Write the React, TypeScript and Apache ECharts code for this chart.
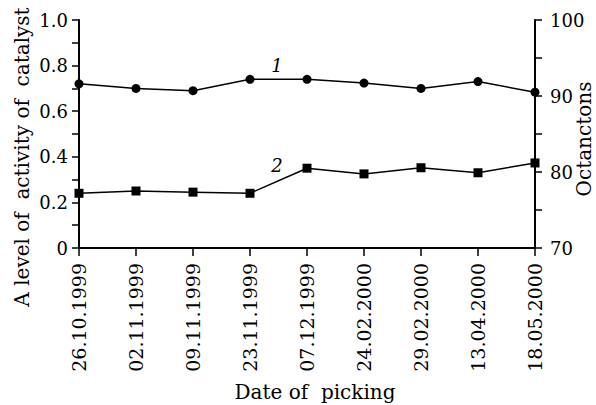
import React, { useEffect, useRef } from "react";
import * as echarts from "echarts";

const dates = [
  "26.10.1999", "02.11.1999", "09.11.1999", "23.11.1999", "07.12.1999",
  "24.02.2000", "29.02.2000", "13.04.2000", "18.05.2000",
];
// Curve 1 – octane number (right axis)
const octane = [91.6, 91.0, 90.7, 92.2, 92.2, 91.7, 91.0, 91.9, 90.5];
// Curve 2 – level of activity of catalyst (left axis)
const activity = [0.24, 0.25, 0.245, 0.24, 0.35, 0.325, 0.352, 0.33, 0.373];

const FONT = "DejaVu Serif";

export default function App() {
  const ref = useRef<HTMLDivElement>(null);
  useEffect(() => {
    if (!ref.current) return;
    const chart = echarts.init(ref.current, undefined, { renderer: "svg" });
    const axisCommon = {
      axisLine: { show: true, lineStyle: { color: "#000", width: 2 } },
      axisTick: { show: true, inside: false, length: 7, lineStyle: { color: "#000", width: 1.5 } },
      splitLine: { show: false },
      axisLabel: { color: "#000", fontFamily: FONT, fontSize: 18 },
    };
    chart.setOption({
      animation: false,
      backgroundColor: "#fff",
      grid: { left: 79, right: 61, top: 20, height: 228 },
      xAxis: {
        type: "category",
        data: dates,
        boundaryGap: false,
        axisLine: { lineStyle: { color: "#000", width: 2 } },
        axisTick: { show: true, length: 8, lineStyle: { color: "#000", width: 1.5 } },
        axisLabel: { rotate: 90, margin: 15, color: "#000", fontFamily: FONT, fontSize: 19, interval: 0 },
      },
      yAxis: [
        {
          ...axisCommon,
          type: "value",
          position: "left",
          min: 0,
          max: 1,
          interval: 0.1,
          axisLabel: {
            ...axisCommon.axisLabel,
            margin: 11,
            formatter: (v: number) => {
              const k = Math.round(v * 10);
              if (k % 2 !== 0) return "";
              return k === 0 ? "0" : (k / 10).toFixed(1);
            },
          },
        },
        {
          ...axisCommon,
          type: "value",
          position: "right",
          min: 70,
          max: 100,
          interval: 5,
          axisLabel: {
            ...axisCommon.axisLabel,
            margin: 15,
            formatter: (v: number) => (Math.round(v) % 10 === 0 ? String(v) : ""),
          },
        },
      ],
      series: [
        {
          name: "1",
          type: "line",
          yAxisIndex: 1,
          data: octane,
          symbol: "circle",
          symbolSize: 9,
          itemStyle: { color: "#000" },
          lineStyle: { color: "#000", width: 1.5 },
        },
        {
          name: "2",
          type: "line",
          yAxisIndex: 0,
          data: activity,
          symbol: "rect",
          symbolSize: 9,
          itemStyle: { color: "#000" },
          lineStyle: { color: "#000", width: 1.5 },
        },
      ],
      graphic: [
        {
          type: "text",
          x: 22,
          y: 157,
          rotation: Math.PI / 2,
          style: {
            text: "A level of  activity of  catalyst",
            fontFamily: FONT,
            fontSize: 20,
            fill: "#000",
            align: "center",
            verticalAlign: "middle",
          },
        },
        {
          type: "text",
          x: 584,
          y: 139,
          rotation: Math.PI / 2,
          style: {
            text: "Octanctons",
            fontFamily: FONT,
            fontSize: 20,
            fill: "#000",
            align: "center",
            verticalAlign: "middle",
          },
        },
        {
          type: "text",
          x: 315,
          y: 392,
          style: {
            text: "Date of  picking",
            fontFamily: FONT,
            fontSize: 20,
            fill: "#000",
            align: "center",
            verticalAlign: "middle",
          },
        },
        {
          type: "text",
          x: 277,
          y: 65,
          style: {
            text: "1",
            fontFamily: FONT,
            fontStyle: "italic",
            fontSize: 18,
            fill: "#000",
            align: "center",
            verticalAlign: "middle",
          },
        },
        {
          type: "text",
          x: 277,
          y: 165,
          style: {
            text: "2",
            fontFamily: FONT,
            fontStyle: "italic",
            fontSize: 18,
            fill: "#000",
            align: "center",
            verticalAlign: "middle",
          },
        },
      ],
    });
    return () => chart.dispose();
  }, []);
  return (
    <div
      ref={ref}
      style={{ position: "fixed", left: 0, top: 0, width: 596, height: 405, background: "#fff" }}
    />
  );
}
